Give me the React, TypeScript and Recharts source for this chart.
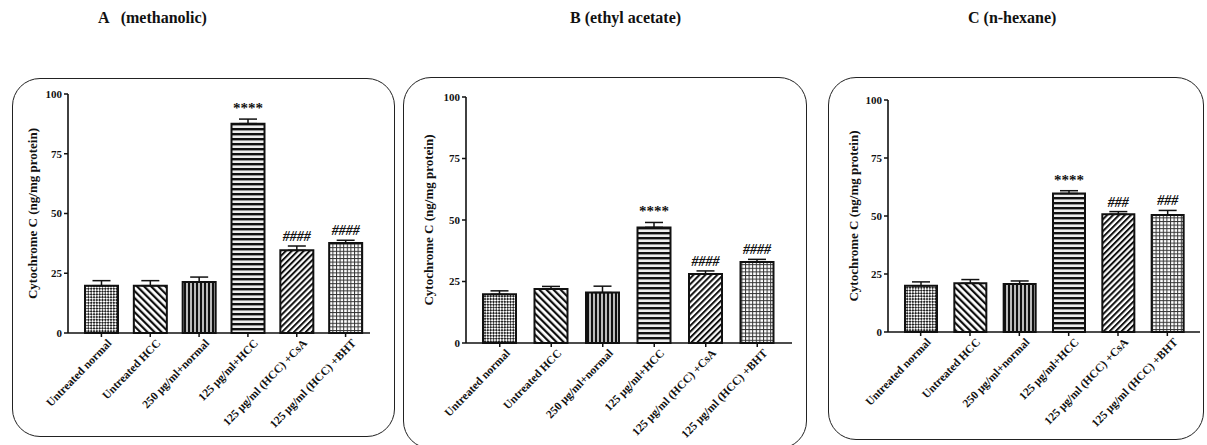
import React from 'react';
import { BarChart, Bar, XAxis, YAxis, ErrorBar, Cell, LabelList } from 'recharts';

const categories = [
  'Untreated normal',
  'Untreated HCC',
  '250 μg/ml+normal',
  '125 μg/ml+HCC',
  '125 μg/ml (HCC) +CsA',
  '125 μg/ml (HCC) +BHT',
];

const methanolicMean = [19.8, 19.8, 21.3, 87.6, 34.6, 37.7];
const methanolicErr = [2.1, 2.1, 2.1, 1.9, 1.8, 1.1];
const methanolicSig = ['', '', '', '****', '####', '####'];

const ethylMean = [19.8, 22.0, 20.5, 47.0, 28.0, 32.9];
const ethylErr = [1.4, 1.0, 2.6, 2.0, 1.3, 1.1];
const ethylSig = ['', '', '', '****', '####', '####'];

const hexaneMean = [19.9, 21.0, 20.7, 59.7, 50.8, 50.4];
const hexaneErr = [1.7, 1.6, 1.3, 1.2, 1.1, 2.0];
const hexaneSig = ['', '', '', '****', '###', '###'];

const yTicks = [0, 25, 50, 75, 100];
const yLabel = 'Cytochrome C (ng/mg protein)';

const FONT = '"Liberation Serif", "Times New Roman", serif';

function Patterns({ p }: { p: string }) {
  return (
    <defs>
      <pattern id={`${p}-check`} width="4" height="4" patternUnits="userSpaceOnUse" patternTransform="rotate(45)">
        <rect width="4" height="4" fill="#fff" />
        <rect width="2" height="2" fill="#222" />
        <rect x="2" y="2" width="2" height="2" fill="#222" />
      </pattern>
      <pattern id={`${p}-back`} width="5" height="5" patternUnits="userSpaceOnUse" patternTransform="rotate(-45)">
        <rect width="5" height="5" fill="#fff" />
        <rect width="2.2" height="5" fill="#111" />
      </pattern>
      <pattern id={`${p}-vert`} width="4" height="4" patternUnits="userSpaceOnUse">
        <rect width="4" height="4" fill="#bbb" />
        <rect width="2" height="4" fill="#111" />
      </pattern>
      <pattern id={`${p}-horiz`} width="5" height="5" patternUnits="userSpaceOnUse">
        <rect width="5" height="5" fill="#eee" />
        <rect width="5" height="2.4" fill="#111" />
      </pattern>
      <pattern id={`${p}-fwd`} width="4.2" height="4.2" patternUnits="userSpaceOnUse" patternTransform="rotate(45)">
        <rect width="4.2" height="4.2" fill="#fff" />
        <rect width="2" height="4.2" fill="#111" />
      </pattern>
      <pattern id={`${p}-grid`} width="3.6" height="3.6" patternUnits="userSpaceOnUse">
        <rect width="3.6" height="3.6" fill="#fff" />
        <rect width="1" height="3.6" fill="#333" />
        <rect width="3.6" height="1" fill="#333" />
      </pattern>
    </defs>
  );
}

const patternNames = ['check', 'back', 'vert', 'horiz', 'fwd', 'grid'];

function XTick({ x, y, payload }: any) {
  return (
    <g transform={`translate(${x + 8},${y + 2})`}>
      <text
        x={0}
        y={0}
        dy="0.35em"
        textAnchor="end"
        transform="rotate(-46)"
        fontFamily={FONT}
        fontWeight="bold"
        fontSize={11.5}
        fill="#111"
      >
        {payload.value}
      </text>
    </g>
  );
}

interface PanelProps {
  id: string;
  title: string;
  titleX: number;
  box: { left: number; top: number; width: number; height: number };
  margin: { top: number; right: number };
  yAxisWidth: number;
  xAxisHeight: number;
  padLeft: number;
  padRight: number;
  barSize: number;
  labelOffset: number;
  means: number[];
  errs: number[];
  sig: string[];
}

function Panel(props: PanelProps) {
  const { id, box, means, errs, sig } = props;
  const data = categories.map((name, i) => ({
    name,
    v: means[i],
    err: [0, errs[i]],
    sig: sig[i],
  }));

  const renderSig = (lp: any) => {
    const { x, y, width, height, index, value } = lp;
    if (!value) return null;
    const perUnit = height / data[index].v;
    const top = y - errs[index] * perUnit;
    const isStar = String(value).startsWith('*');
    return (
      <text
        x={x + width / 2}
        y={isStar ? top - 6 : top - 5}
        textAnchor="middle"
        fontFamily={FONT}
        fontWeight="bold"
        fontSize={isStar ? 15 : 14}
        fontStyle={isStar ? 'normal' : 'italic'}
        fill="#111"
      >
        {value}
      </text>
    );
  };

  return (
    <>
      <div
        style={{
          position: 'absolute',
          left: props.titleX,
          top: 9,
          fontFamily: FONT,
          fontWeight: 'bold',
          fontSize: 16,
          whiteSpace: 'pre',
          color: '#111',
        }}
      >
        {props.title}
      </div>
      <div
        style={{
          position: 'absolute',
          left: box.left,
          top: box.top,
          width: box.width,
          height: box.height,
          border: '1.5px solid #222',
          borderRadius: 28,
          boxSizing: 'border-box',
        }}
      />
      <div style={{ position: 'absolute', left: box.left, top: box.top }}>
        <BarChart
          width={box.width}
          height={box.height}
          data={data}
          margin={{ top: props.margin.top, right: props.margin.right, left: 0, bottom: 0 }}
          barSize={props.barSize}
        >
          <Patterns p={id} />
          <XAxis
            dataKey="name"
            interval={0}
            height={props.xAxisHeight}
            padding={{ left: props.padLeft, right: props.padRight }}
            axisLine={{ stroke: '#111', strokeWidth: 1.6 }}
            tickLine={{ stroke: '#111', strokeWidth: 1.5 }}
            tickSize={4}
            tick={<XTick />}
          />
          <YAxis
            domain={[0, 100]}
            ticks={yTicks}
            width={props.yAxisWidth}
            axisLine={{ stroke: '#111', strokeWidth: 1.6 }}
            tickLine={{ stroke: '#111', strokeWidth: 1.5 }}
            tickSize={4}
            tick={{ fontFamily: FONT, fontWeight: 'bold', fontSize: 11, fill: '#111' }}
            label={{
              content: ({ viewBox }: any) => {
                const cx = viewBox.x + props.labelOffset;
                const cy = viewBox.y + viewBox.height / 2;
                return (
                  <text
                    x={cx}
                    y={cy}
                    textAnchor="middle"
                    dominantBaseline="central"
                    transform={`rotate(-90 ${cx} ${cy})`}
                    fontFamily={FONT}
                    fontWeight="bold"
                    fontSize={13}
                    fill="#111"
                  >
                    {yLabel}
                  </text>
                );
              },
            }}
          />
          <Bar dataKey="v" stroke="#111" strokeWidth={2} isAnimationActive={false}>
            {data.map((d, i) => (
              <Cell key={d.name} fill={`url(#${id}-${patternNames[i]})`} />
            ))}
            <ErrorBar dataKey="err" direction="y" width={9} stroke="#111" strokeWidth={1.5} />
            <LabelList dataKey="sig" content={renderSig} />
          </Bar>
        </BarChart>
      </div>
    </>
  );
}

export default function App() {
  return (
    <div style={{ position: 'absolute', left: 0, top: 0, width: 1207, height: 445, background: '#fff', overflow: 'hidden' }}>
      <Panel
        id="pa"
        title={'A   (methanolic)'}
        titleX={98}
        box={{ left: 12, top: 78, width: 383, height: 359 }}
        margin={{ top: 16, right: 25 }}
        yAxisWidth={56}
        xAxisHeight={104}
        padLeft={9}
        padRight={0}
        barSize={33}
        labelOffset={20}
        means={methanolicMean}
        errs={methanolicErr}
        sig={methanolicSig}
      />
      <Panel
        id="pb"
        title="B (ethyl acetate)"
        titleX={570}
        box={{ left: 403, top: 77, width: 404, height: 372 }}
        margin={{ top: 20, right: 15 }}
        yAxisWidth={63}
        xAxisHeight={106}
        padLeft={8}
        padRight={9}
        barSize={33}
        labelOffset={25}
        means={ethylMean}
        errs={ethylErr}
        sig={ethylSig}
      />
      <Panel
        id="pc"
        title="C (n-hexane)"
        titleX={968}
        box={{ left: 828, top: 77, width: 376, height: 363 }}
        margin={{ top: 23, right: 4 }}
        yAxisWidth={60}
        xAxisHeight={108}
        padLeft={8}
        padRight={8}
        barSize={32}
        labelOffset={25}
        means={hexaneMean}
        errs={hexaneErr}
        sig={hexaneSig}
      />
    </div>
  );
}
